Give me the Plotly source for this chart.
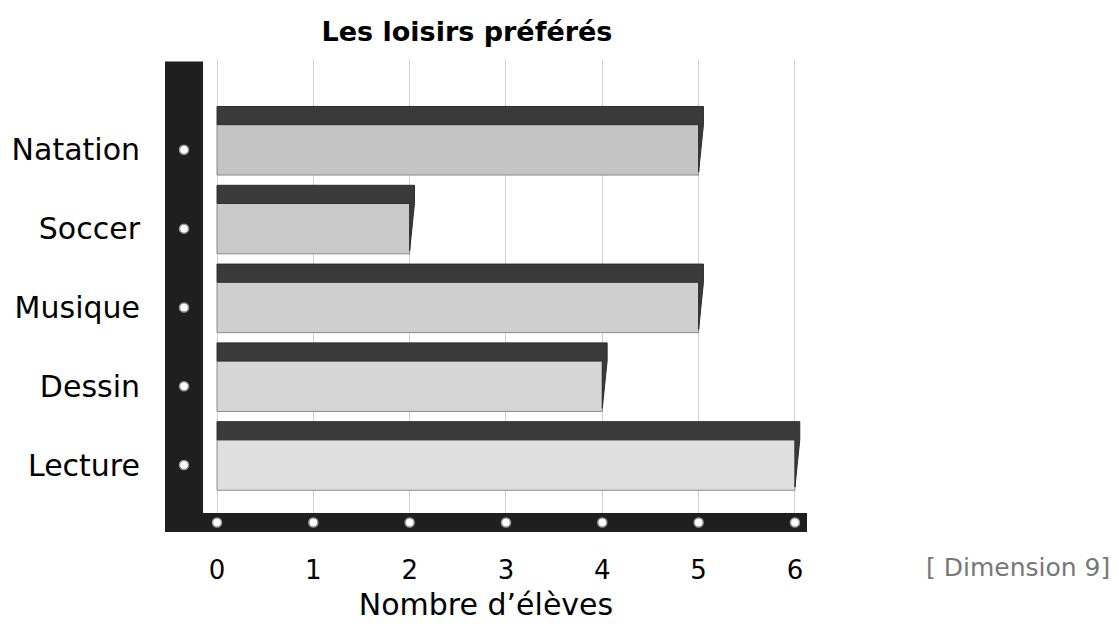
import plotly.graph_objects as go

# Data
categories = ["Natation", "Soccer", "Musique", "Dessin", "Lecture"]
values = [5, 2, 5, 4, 6]
x_ticks = [0, 1, 2, 3, 4, 5, 6]

# Styling
front_colors = ["#c4c4c4", "#c9c9c9", "#cfcfcf", "#d6d6d6", "#dfdfdf"]
top_color = "#3a3a3a"
font_family = "DejaVu Sans"
front_half = 0.32     # half height of the front face (y units)
top_depth = 0.23      # height of the dark top face
side_skew = 0.05      # rightward skew of the top face

n = len(categories)
ypos = [n - 1 - i for i in range(n)]

fig = go.Figure()

# Front faces of the bars
fig.add_trace(go.Bar(
    y=ypos, x=values, base=0, orientation="h",
    width=2 * front_half,
    marker=dict(color=front_colors, line=dict(color="#8a8a8a", width=1)),
    hoverinfo="skip", showlegend=False,
))

# Dark top face + side wedge of each bar
for y, v in zip(ypos, values):
    yf = y + front_half
    yt = yf + top_depth
    yb = y - front_half
    xs = [0, v + side_skew, v + side_skew, v, v, 0, 0]
    ys = [yt, yt, yf, yb + 0.04, yf, yf, yt]
    fig.add_trace(go.Scatter(
        x=xs, y=ys, mode="lines", fill="toself",
        fillcolor=top_color, line=dict(color="#2e2e2e", width=1),
        hoverinfo="skip", showlegend=False,
    ))

# Left wall and floor
wall_left, wall_right = -0.54, -0.145
floor_bottom, floor_top = -0.85, -0.61
shapes = [
    dict(type="rect", xref="x", yref="y", x0=wall_left, x1=wall_right,
         y0=floor_bottom, y1=5.12, fillcolor="#1f1f1f", line=dict(width=0),
         layer="between"),
    dict(type="rect", xref="x", yref="y", x0=wall_left, x1=6.125,
         y0=floor_bottom, y1=floor_top, fillcolor="#1f1f1f", line=dict(width=0),
         layer="between"),
]

# Dots on the wall and the floor
fig.add_trace(go.Scatter(
    x=[(wall_left + wall_right) / 2] * n, y=ypos, mode="markers",
    marker=dict(size=9, color="white", line=dict(color="#9a9a9a", width=1.5)),
    hoverinfo="skip", showlegend=False,
))
fig.add_trace(go.Scatter(
    x=x_ticks, y=[(floor_bottom + floor_top) / 2] * len(x_ticks), mode="markers",
    marker=dict(size=9, color="white", line=dict(color="#9a9a9a", width=1.5)),
    hoverinfo="skip", showlegend=False,
))

fig.update_layout(
    width=1119, height=631,
    margin=dict(l=165, r=312, t=60, b=99),
    paper_bgcolor="white", plot_bgcolor="white",
    font=dict(family=font_family, color="black"),
    shapes=shapes,
    title=dict(text="<b>Les loisirs préférés</b>", x=467 / 1119, xanchor="center",
               y=1 - 32 / 631, yanchor="middle",
               font=dict(size=27, family=font_family, color="black")),
    xaxis=dict(
        range=[-0.54, 6.125], tickvals=x_ticks, ticktext=[str(t) for t in x_ticks],
        showgrid=True, gridcolor="#cfcfcf", gridwidth=1, zeroline=False,
        showline=False, ticks="", ticklabelstandoff=20,
        tickfont=dict(size=26, family=font_family),
        title=dict(text="Nombre d’élèves", font=dict(size=30, family=font_family),
                   standoff=9),
        fixedrange=True,
    ),
    yaxis=dict(
        range=[-0.85, 5.14], tickvals=ypos, ticktext=categories,
        showgrid=False, zeroline=False, showline=False, ticks="",
        ticklabelstandoff=24,
        tickfont=dict(size=30, family=font_family),
        fixedrange=True,
    ),
    annotations=[
        dict(text="[ Dimension 9]", xref="paper", yref="paper",
             x=(1018 - 165) / (1119 - 165 - 312), y=-(567 - 532) / (631 - 60 - 99),
             xanchor="center", yanchor="middle", showarrow=False,
             font=dict(size=25, color="#777777", family=font_family)),
    ],
)

fig.write_html("out.html")
